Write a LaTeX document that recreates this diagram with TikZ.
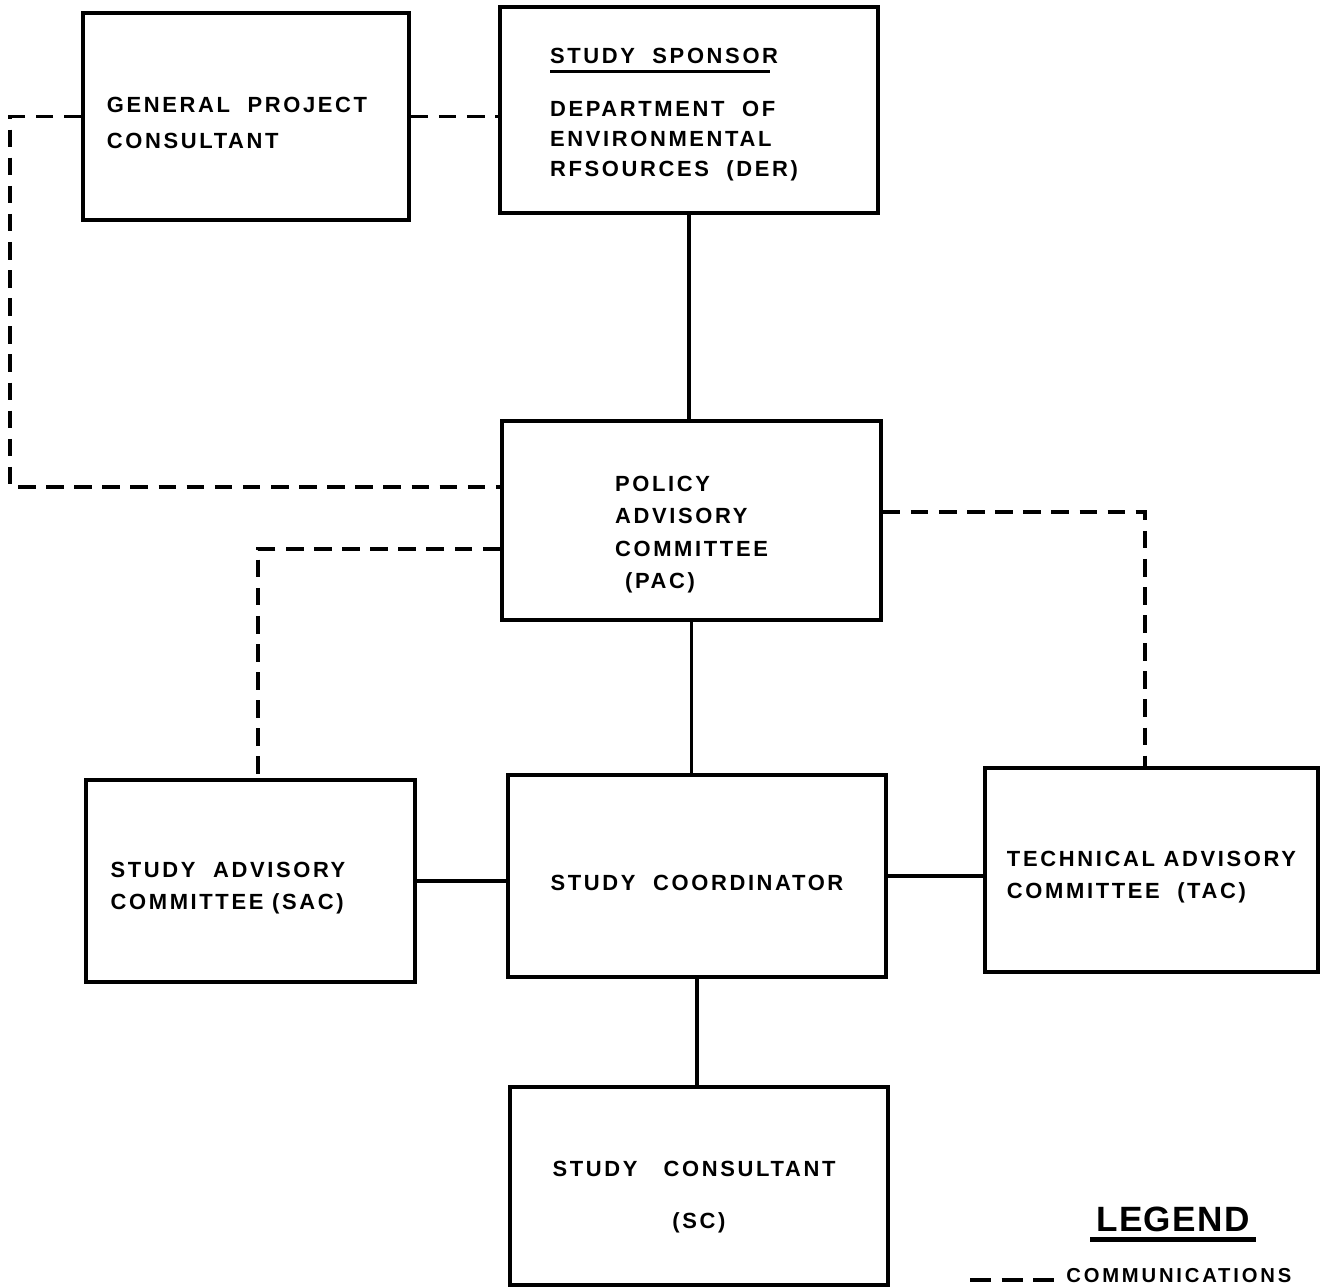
\documentclass[tikz,border=0pt]{standalone}
\usepackage{fontspec}
\setmainfont{Liberation Sans}[LetterSpace=12, UprightFont=*-Bold]
\usetikzlibrary{calc}
\tikzstyle{box} = [draw, line width=2pt, inner sep=0pt, align=left, font=\fontsize{12.5}{18.5}\selectfont]
\tikzstyle{link} = [line width=2pt]
\tikzstyle{comm} = [link, dash pattern=on 10pt off 6pt]

\begin{document}
\begin{tikzpicture}[x=0.02cm, y=-0.02cm]
        \useasboundingbox (0,0) rectangle (1320,1287);

        \node at (246,116.5) [box, minimum width=6.52cm, minimum height=4.14cm] (gpc) {\rule{0pt}{16pt}GENERAL\ \ PROJECT\hspace*{0.36cm}\\[2pt]CONSULTANT};
        \node at (689,110) [box, minimum width=7.56cm, minimum height=4.12cm] (der) {\rule{0pt}{14pt}STUDY\ \ SPONSOR\\[-13.5pt]\rule{4.4cm}{1.2pt}\\[6.5pt]DEPARTMENT\ \ OF\\[-1.5pt]ENVIRONMENTAL\\[-1.5pt]RFSOURCES\ \ (DER)\hspace*{0.6cm}};
        \node at (691.5,520.5) [box, minimum width=7.58cm, minimum height=3.98cm] (pac) {\rule{0pt}{25pt}POLICY\\ADVISORY\\COMMITTEE\\\hspace*{0.2cm}(PAC)};
        \node at (250.5,881) [box, minimum width=6.58cm, minimum height=4.04cm] (sac) {\rule{0pt}{17pt}STUDY\ \ ADVISORY\hspace*{0.9cm}\\COMMITTEE (SAC)};
        \node at (697,876) [box, minimum width=7.56cm, minimum height=4.04cm] (coord) {\rule{0pt}{17pt}STUDY\ \ COORDINATOR};
        \node at (1151.5,870) [box, minimum width=6.66cm, minimum height=4.08cm] (tac) {\rule{0pt}{17pt}TECHNICAL\ ADVISORY\\COMMITTEE\ \ (TAC)};
        \node at (699,1186) [box, align=center, minimum width=7.56cm, minimum height=3.96cm] (cons) {\rule{0pt}{21pt}STUDY\ \ \ CONSULTANT\hspace*{0.2cm}\\[11pt](SC)};

        \coordinate (bendgpc) at (10,487);
        \coordinate (bendsac) at (258,549);
        \coordinate (bendtac) at (1145,512);

        \draw[link] (der.south) -- (der.south |- pac.north);
        \draw[link] (pac.south) -- (pac.south |- coord.north);
        \draw[link] (coord.south) -- (coord.south |- cons.north);
        \draw[link] (sac.east) -- (sac.east -| coord.west);
        \draw[link] (coord.east) -- (coord.east -| tac.west);

        \draw[comm] (gpc.east) -- (gpc.east -| der.west);
        \draw[comm] (gpc.west) -- (bendgpc |- gpc.west) -- (bendgpc) -- (bendgpc -| pac.west);
        \draw[comm] (bendsac -| pac.west) -- (bendsac) -- (bendsac |- sac.north);
        \draw[comm] (bendtac -| pac.east) -- (bendtac) -- (bendtac |- tac.north);

        \node at (1173,1219) [font=\fontsize{20}{24}\selectfont\addfontfeature{LetterSpace=4}] (legend) {LEGEND};
        \draw[line width=2.6pt] ([yshift=-1pt]legend.south west) -- ([yshift=-1pt]legend.south east);
        \node at (1066,1268) [anchor=north west, inner sep=0pt, font=\fontsize{11.5}{14}\selectfont\addfontfeature{LetterSpace=14}] (commtext) {COMMUNICATIONS};
        \coordinate (legline) at (970,1280);
        \draw[comm, dash pattern=on 12pt off 6pt] (legline) -- ([xshift=-5pt]legline -| commtext.west);

    \end{tikzpicture}
\end{document}
